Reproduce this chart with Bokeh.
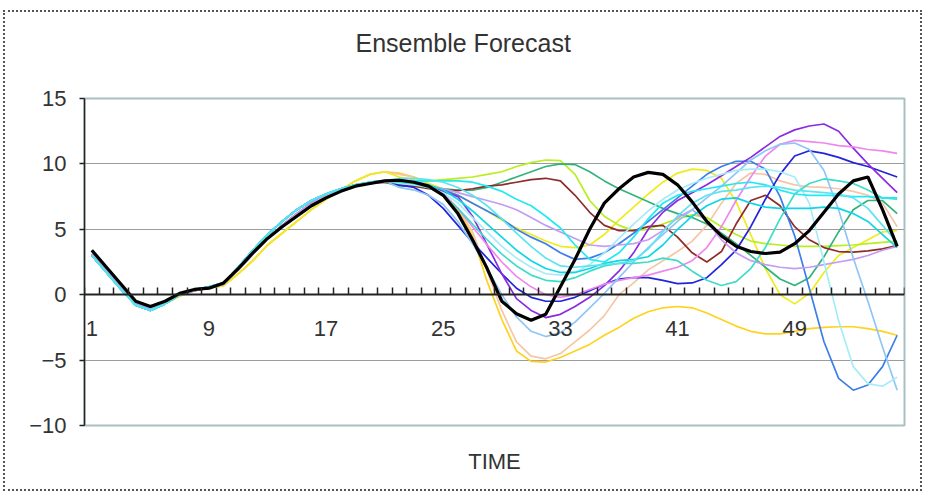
from bokeh.plotting import figure
from bokeh.models import FixedTicker, LinearAxis, Range1d, Title
from bokeh.embed import file_html
from bokeh.resources import INLINE
import numpy as np

# ---------------- data ----------------
time = list(range(1, 57))
x_labels = [1, 9, 17, 25, 33, 41, 49]
y_ticks = [-10, -5, 0, 5, 10, 15]

# common start of the runs (time 1..21)
early_black = [3.4, 2.1, 0.8, -0.5, -0.9, -0.5, 0.1, 0.4, 0.5, 0.9, 2.0, 3.2, 4.3, 5.2, 6.0, 6.8, 7.4, 7.9, 8.3, 8.5, 8.7]
early_mid = [3.1, 1.8, 0.5, -0.7, -1.1, -0.6, 0.0, 0.3, 0.5, 0.8, 1.9, 3.1, 4.3, 5.3, 6.2, 7.0, 7.6, 8.0, 8.3, 8.5, 8.6]
early_lead = [3.0, 1.7, 0.4, -0.8, -1.2, -0.7, 0.0, 0.4, 0.6, 0.9, 2.1, 3.4, 4.6, 5.6, 6.5, 7.2, 7.7, 8.1, 8.4, 8.6, 8.7]
early_lag = [3.1, 1.8, 0.5, -0.7, -1.1, -0.7, -0.1, 0.3, 0.5, 0.7, 1.6, 2.6, 3.8, 4.7, 5.6, 6.5, 7.3, 8.0, 8.7, 9.2, 9.4]

# time 22..56 of each member
black_tail = [8.75, 8.6, 8.3, 7.6, 6.2, 4.2, 2.0, -0.5, -1.45, -1.95, -1.5, 0.6, 2.7, 5.0, 7.0, 8.1, 9.0, 9.35, 9.2, 8.4, 7.1, 5.6, 4.5, 3.7, 3.3, 3.15, 3.25, 3.9, 4.9, 6.3, 7.7, 8.7, 9.0, 6.5, 3.7]
gold_tail = [9.3, 9.0, 8.5, 7.7, 6.5, 4.5, 1.0, -1.9, -4.3, -5.1, -5.15, -4.8, -4.3, -3.8, -3.1, -2.5, -1.8, -1.3, -1.0, -0.9, -1.0, -1.4, -1.9, -2.4, -2.8, -3.0, -3.0, -2.8, -2.6, -2.5, -2.45, -2.45, -2.6, -2.8, -3.1]
peach_tail = [9.2, 9.0, 8.5, 7.8, 6.6, 4.8, 1.8, -1.2, -3.6, -4.7, -4.9, -4.5, -3.6, -2.7, -1.6, 0.0, 0.9, 1.9, 2.6, 3.3, 4.1, 5.3, 7.0, 8.5, 9.3, 9.2, 8.7, 8.4, 8.25, 8.2, 8.1, 7.9, 7.6, 7.0, 5.2]
yellow_tail = [9.0, 8.8, 8.5, 8.1, 7.6, 7.0, 6.4, 5.7, 5.1, 4.6, 4.1, 3.7, 3.6, 3.8, 4.6, 5.7, 6.7, 7.7, 8.6, 9.3, 9.6, 9.5, 8.9, 7.1, 4.6, 2.0, 0.0, -0.7, 0.1, 1.7, 3.0, 3.6, 4.2, 4.8, 4.9]
lime_tail = [8.5, 8.6, 8.7, 8.8, 8.9, 9.0, 9.2, 9.4, 9.8, 10.1, 10.3, 10.25, 9.2, 7.2, 6.0, 5.3, 4.9, 5.0, 5.4, 5.8, 6.1, 5.9, 5.2, 4.6, 4.1, 3.9, 3.8, 3.7, 3.7, 3.7, 3.75, 3.8, 3.9, 4.0, 4.1]
green_tail = [8.3, 8.3, 8.2, 8.1, 8.0, 8.0, 8.2, 8.6, 9.0, 9.4, 9.8, 10.0, 9.95, 9.4, 8.7, 8.1, 7.6, 7.1, 6.6, 6.2, 5.9, 5.4, 4.7, 3.9, 3.0, 2.1, 1.2, 0.7, 1.3, 2.9, 4.8, 6.5, 7.2, 7.2, 6.2]
brown_tail = [8.4, 8.3, 8.1, 8.0, 7.95, 8.1, 8.3, 8.4, 8.6, 8.8, 8.9, 8.7, 7.6, 6.3, 5.3, 4.9, 4.9, 5.2, 5.3, 4.4, 3.2, 2.5, 3.3, 5.4, 7.2, 7.6, 6.8, 5.2, 4.2, 3.6, 3.3, 3.25, 3.35, 3.5, 3.75]
dodger_tail = [8.6, 8.5, 8.3, 8.0, 7.6, 7.0, 6.4, 5.8, 5.0, 4.4, 3.9, 3.2, 2.7, 2.8, 3.2, 3.9, 4.7, 5.6, 6.5, 7.4, 8.3, 9.2, 9.8, 10.2, 10.2, 9.6, 7.5, 4.5, 0.5, -3.6, -6.4, -7.3, -6.9, -5.5, -3.1]
blue_tail = [8.4, 8.2, 7.6, 6.6, 5.3, 4.0, 2.8, 1.6, 0.5, -0.2, -0.5, -0.5, -0.2, 0.3, 0.8, 1.2, 1.3, 1.3, 1.1, 0.85, 0.9, 1.3, 2.3, 3.4, 5.2, 7.3, 9.2, 10.6, 11.0, 10.8, 10.5, 10.1, 9.8, 9.4, 9.0]
purple_tail = [8.6, 8.5, 8.3, 7.9, 7.5, 6.0, 3.8, 1.6, -0.3, -1.2, -1.75, -1.5, -0.9, -0.2, 0.7, 1.8, 3.2, 5.0, 6.3, 7.2, 7.8, 8.4, 9.1, 9.8, 10.5, 11.3, 12.1, 12.6, 12.9, 13.05, 12.5, 11.2, 10.0, 8.9, 7.8]
violet_tail = [8.8, 8.7, 8.4, 7.7, 6.6, 5.2, 3.8, 2.5, 1.4, 0.6, 0.0, -0.2, 0.0, 0.4, 0.8, 1.1, 1.3, 1.5, 1.8, 2.1, 2.6, 3.6, 5.2, 7.2, 9.0, 10.6, 11.5, 11.8, 11.7, 11.6, 11.4, 11.3, 11.1, 11.0, 10.8]
lavender_tail = [8.6, 8.5, 8.3, 8.1, 7.8, 7.5, 7.2, 6.9, 6.5, 5.9, 5.3, 4.8, 4.3, 3.8, 3.7, 3.8, 3.9, 4.2, 4.9, 5.9, 6.5, 5.6, 4.2, 3.2, 2.6, 2.3, 2.1, 2.0, 2.1, 2.3, 2.5, 2.7, 3.0, 3.4, 3.7]
skyblue_tail = [8.2, 8.0, 7.6, 6.9, 5.6, 3.9, 2.0, 0.0, -1.7, -2.8, -3.2, -2.9, -2.1, -1.0, 0.1, 1.3, 2.5, 3.6, 4.6, 5.6, 6.5, 7.4, 8.3, 9.3, 10.3, 11.0, 11.5, 11.6, 11.1, 9.5, 6.5, 2.8, -0.5, -4.0, -7.3]
paleturq_tail = [8.5, 8.4, 8.2, 7.8, 7.0, 5.9, 4.8, 3.7, 2.8, 2.1, 1.6, 1.5, 1.7, 2.3, 3.2, 4.3, 5.4, 6.4, 7.3, 8.0, 8.5, 8.9, 9.2, 9.5, 9.6, 9.6, 9.4, 9.0, 7.0, 2.5, -2.0, -5.5, -6.8, -7.0, -6.3]
turq_tail = [8.6, 8.5, 8.2, 7.6, 6.6, 5.4, 4.2, 3.1, 2.2, 1.5, 1.1, 1.0, 1.3, 1.8, 2.2, 2.4, 2.4, 2.5, 2.8, 2.6, 1.8, 1.1, 0.7, 1.0, 2.0, 3.6, 5.8, 7.7, 8.5, 8.85, 8.7, 8.5, 8.0, 7.4, 7.3]
aqua_tail = [8.7, 8.7, 8.7, 8.7, 8.7, 8.6, 8.3, 7.9, 7.3, 6.8, 6.0, 5.1, 3.8, 2.7, 2.5, 3.2, 4.4, 5.8, 7.0, 7.6, 7.9, 8.1, 8.3, 8.5, 8.6, 8.4, 8.0, 7.7, 7.6, 7.6, 7.6, 7.5, 7.5, 7.4, 7.4]
darkturq_tail = [8.7, 8.6, 8.4, 8.0, 7.3, 6.4, 5.4, 4.4, 3.4, 2.6, 2.0, 1.7, 1.7, 2.0, 2.4, 2.6, 2.7, 2.9, 3.8, 5.0, 6.0, 6.8, 7.3, 7.4, 7.0, 6.7, 6.6, 6.6, 6.6, 6.7, 6.6, 6.2, 5.6, 4.6, 3.6]
medturq_tail = [8.9, 8.9, 8.8, 8.6, 8.2, 7.6, 6.8, 5.8, 4.7, 3.7, 2.8, 2.2, 2.1, 2.2, 2.3, 2.4, 2.6, 3.5, 4.8, 6.0, 7.0, 7.6, 7.9, 8.0, 8.2, 8.3, 8.2, 8.0, 7.9, 7.8, 7.7, 7.4, 6.6, 5.3, 4.0]

members = [
    ("#FFD21F", early_lag, gold_tail),
    ("#F5C6A6", early_lag, peach_tail),
    ("#F0EC1C", early_lag, yellow_tail),
    ("#B9EE22", early_mid, lime_tail),
    ("#34B27C", early_mid, green_tail),
    ("#8E2B2B", early_mid, brown_tail),
    ("#3D7FEA", early_lead, dodger_tail),
    ("#2424DC", early_lead, blue_tail),
    ("#8A2BE2", early_lead, purple_tail),
    ("#EE88EE", early_mid, violet_tail),
    ("#C49CF2", early_mid, lavender_tail),
    ("#8EC6F6", early_lead, skyblue_tail),
    ("#A6ECF8", early_lead, paleturq_tail),
    ("#3EDDC9", early_lead, turq_tail),
    ("#22EAF2", early_lead, aqua_tail),
    ("#10D6E6", early_lead, darkturq_tail),
    ("#5EE4EE", early_lead, medturq_tail),
]

FONT = "Liberation Sans"
TXT = "#333333"

p = figure(width=919, height=481, x_range=Range1d(0.5, 56.5), y_range=Range1d(-10, 15),
           output_backend="svg", toolbar_location=None, title=None,
           min_border_left=79, min_border_right=20, min_border_top=86, min_border_bottom=68)
p.margin = (10, 0, 0, 3)
p.styles = {"border": "2px dotted #555555"}

p.background_fill_color = "white"
p.border_fill_color = "white"
p.outline_line_color = "#A9BFC0"
p.outline_line_width = 2

# invisible top axis used only as a spacer between the frame and the title
spacer = LinearAxis(ticker=FixedTicker(ticks=[28]))
spacer.axis_line_color = None
spacer.major_tick_line_color = None
spacer.minor_tick_line_color = None
spacer.major_tick_out = 42
spacer.major_tick_in = 0
spacer.minor_tick_out = 0
spacer.major_label_standoff = 0
spacer.major_label_overrides = {28: ""}
spacer.major_label_text_font_size = "0px"
p.add_layout(spacer, "above")

title = Title(text="Ensemble Forecast", text_font=FONT, text_font_size="25px",
              text_font_style="normal", text_color=TXT, align="left",
              offset=271, standoff=0)
p.add_layout(title, "above")

# grid
p.xgrid.visible = False
p.ygrid.ticker = FixedTicker(ticks=y_ticks)
p.ygrid.grid_line_color = "#9C9C9C"
p.ygrid.grid_line_width = 1

# y axis
ya = p.yaxis[0]
ya.ticker = FixedTicker(ticks=y_ticks)
ya.major_label_overrides = {t: (str(t).replace("-", "\u2212")) for t in y_ticks}
ya.major_label_text_font = FONT
ya.major_label_text_font_size = "22px"
ya.major_label_text_color = TXT
ya.axis_line_color = "#222222"
ya.axis_line_width = 1.5
ya.major_tick_line_color = "#222222"
ya.major_tick_line_width = 1.5
ya.major_tick_out = 5
ya.major_tick_in = 0
ya.minor_tick_line_color = None
ya.major_label_standoff = 13

# bottom axis: title only
xa = p.below[0]
xa.ticker = FixedTicker(ticks=[])
xa.axis_line_color = None
xa.major_tick_line_color = None
xa.minor_tick_line_color = None
xa.major_label_text_font_size = "0px"
xa.axis_label = "TIME"
xa.axis_label_text_font = FONT
xa.axis_label_text_font_size = "22px"
xa.axis_label_text_font_style = "normal"
xa.axis_label_text_color = TXT
xa.axis_label_standoff = 23

# category axis crossing at zero
n = len(time)
bounds = list(np.arange(0.5, n + 1, 1.0))
zero_axis = LinearAxis(fixed_location=0, ticker=FixedTicker(ticks=bounds))
zero_axis.axis_line_color = "#222222"
zero_axis.axis_line_width = 2
zero_axis.major_tick_line_color = "#222222"
zero_axis.major_tick_line_width = 1.5
zero_axis.major_tick_in = 7
zero_axis.major_tick_out = 0
zero_axis.minor_tick_line_color = None
zero_axis.major_label_text_font_size = "0px"
zero_axis.major_label_text_color = None
p.add_layout(zero_axis, "below")

label_axis = LinearAxis(fixed_location=0, ticker=FixedTicker(ticks=x_labels))
label_axis.axis_line_color = None
label_axis.major_tick_line_color = None
label_axis.minor_tick_line_color = None
label_axis.major_tick_in = 0
label_axis.major_tick_out = 0
label_axis.major_label_standoff = 26
label_axis.major_label_text_font = FONT
label_axis.major_label_text_font_size = "22px"
label_axis.major_label_text_color = TXT
p.add_layout(label_axis, "below")

for color, early, tail in members:
    p.line(time, early + tail, line_color=color, line_width=1.7)

p.line(time, early_black + black_tail, line_color="black", line_width=3.2)

open("out.html", "w").write(file_html(p, INLINE))
